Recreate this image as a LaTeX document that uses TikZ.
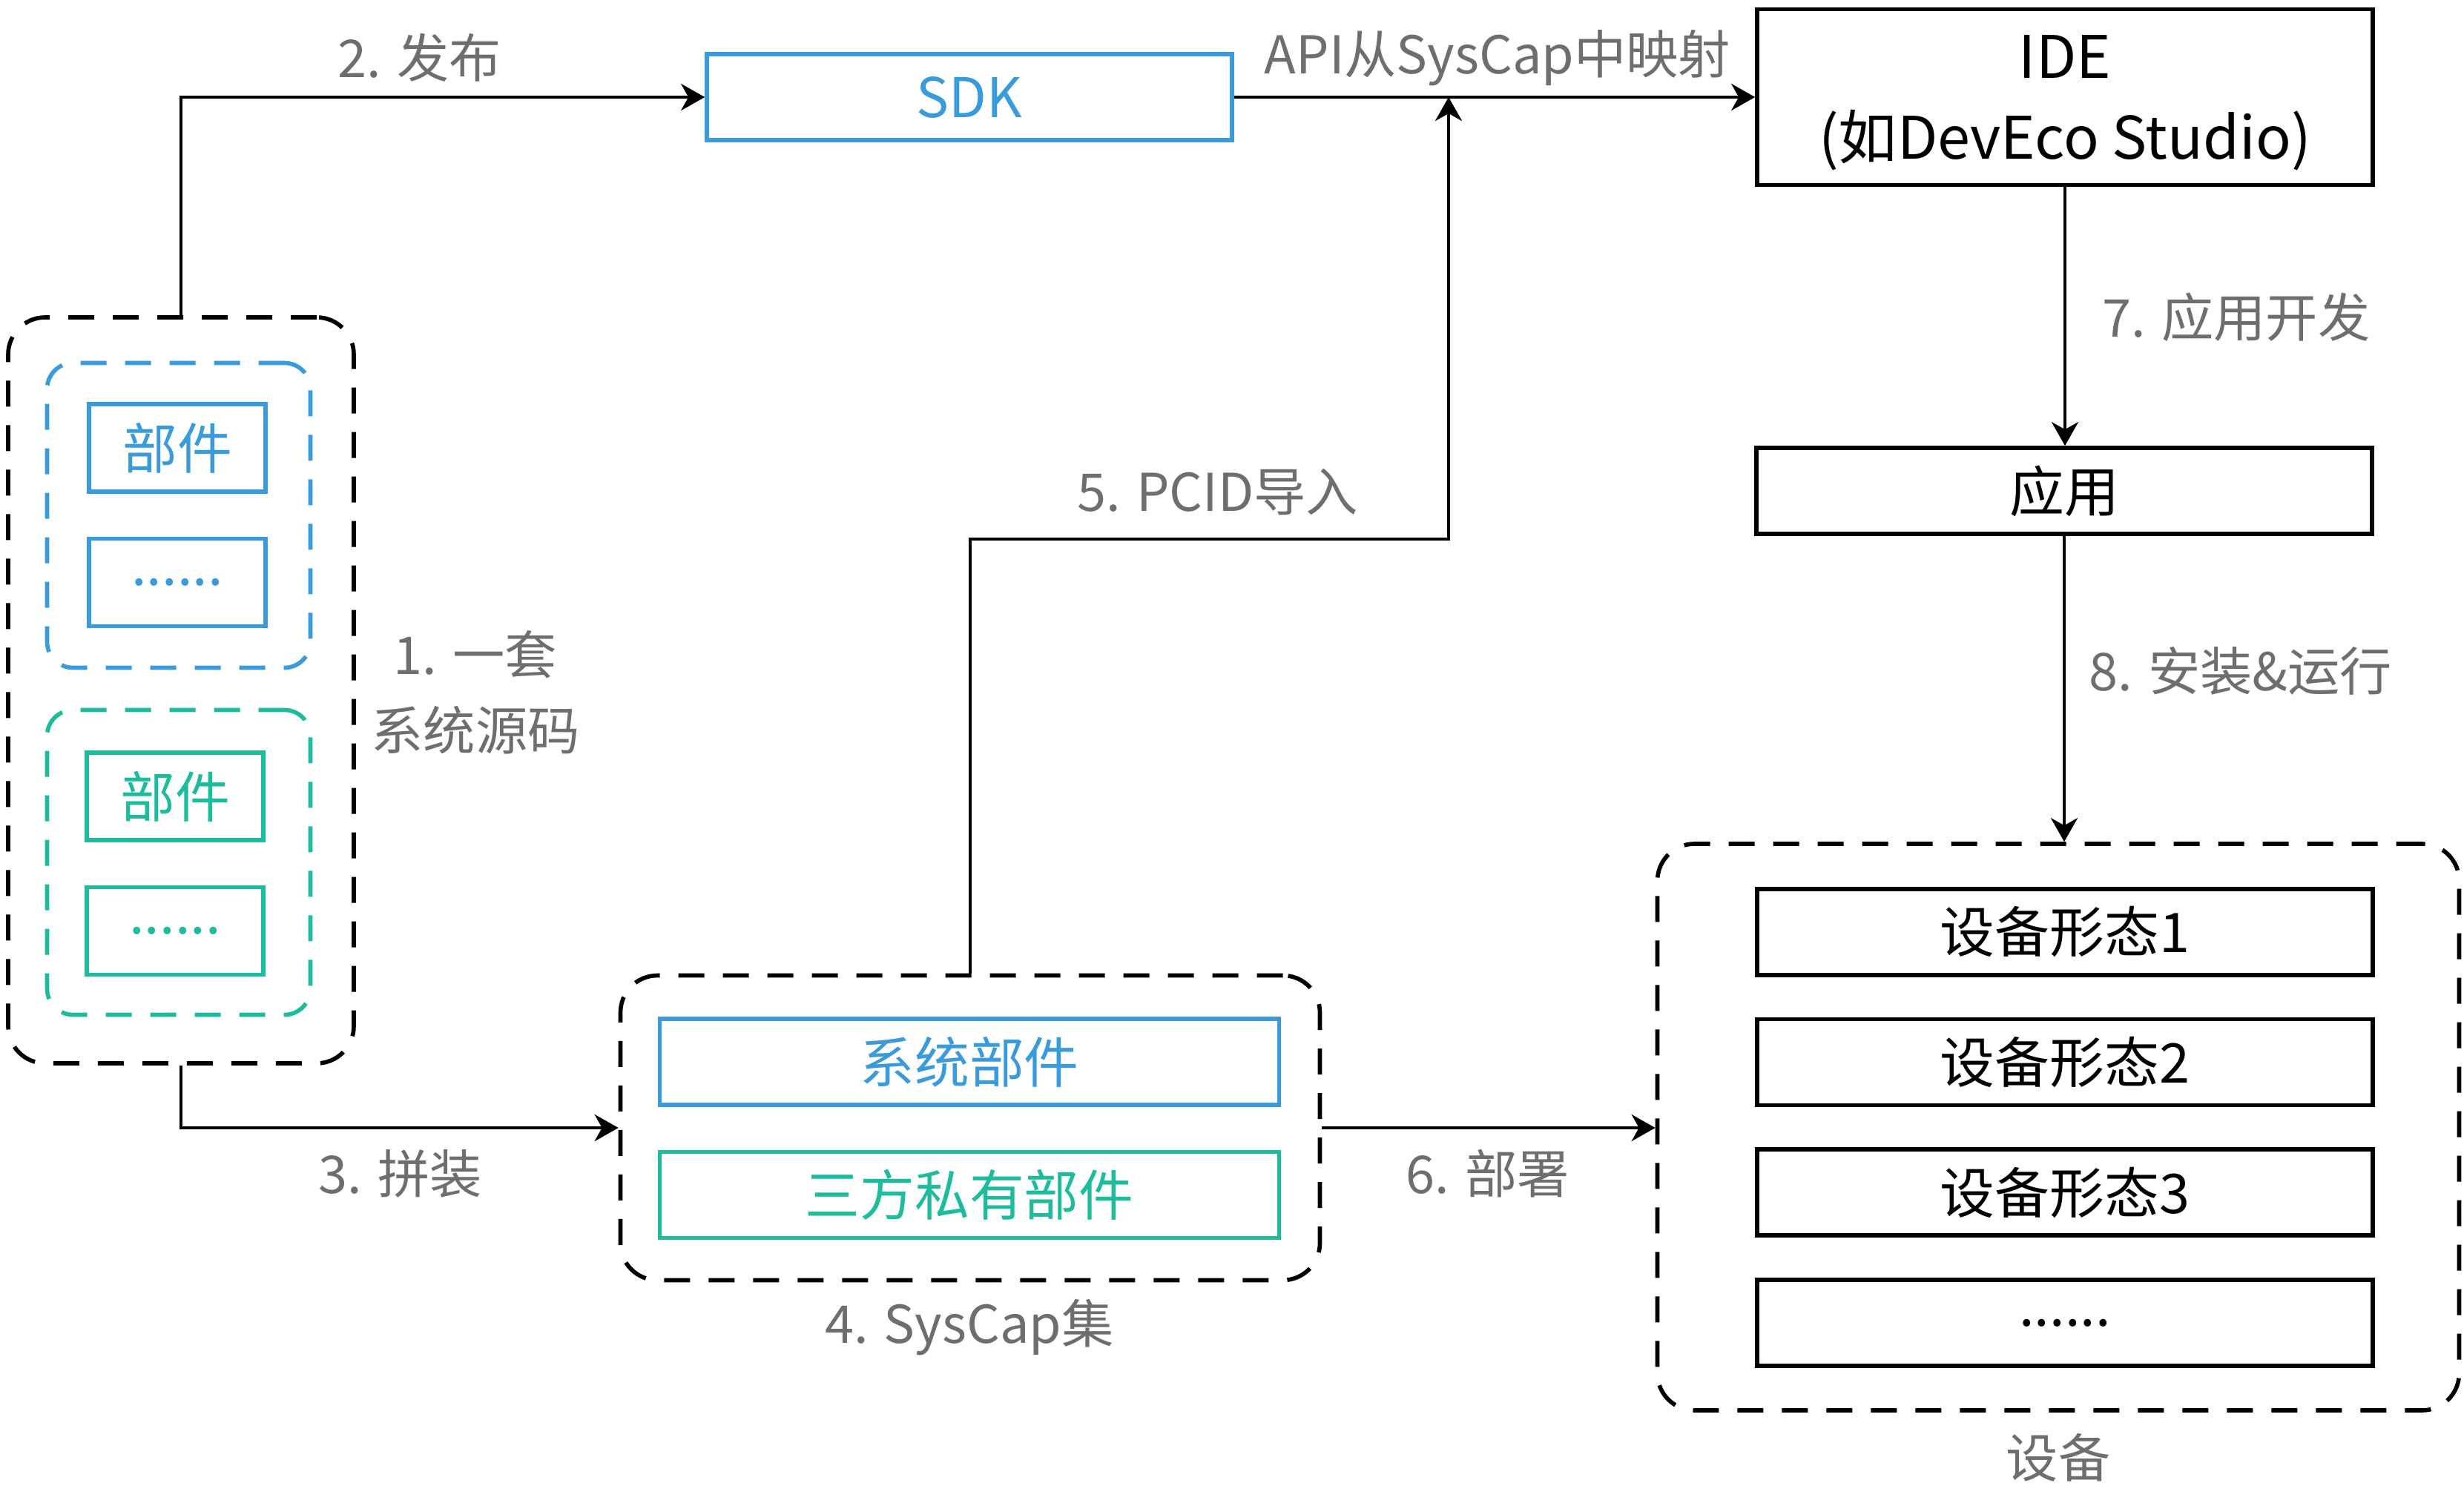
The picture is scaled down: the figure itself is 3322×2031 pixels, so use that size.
\documentclass[tikz,border=0pt]{standalone}
\usepackage{fontspec}
\setmainfont{Noto Sans CJK SC}
\usepackage{xcolor}
\usepackage{tikz}
\usetikzlibrary{positioning,arrows.meta,calc}
\definecolor{compblue}{HTML}{3A9BDC}
\definecolor{compgreen}{HTML}{1DBC9C}
\definecolor{notegray}{HTML}{6E6E6E}

\begin{document}
\begin{tikzpicture}[x=0.1mm,y=-0.1mm,font=\fontsize{21}{25}\selectfont,
   blk/.style={draw,line width=1.6pt,minimum width=83mm,minimum height=11.6mm,inner sep=2pt},
   part/.style={draw,line width=1.5pt,minimum width=23.8mm,minimum height=11.8mm,inner sep=1pt},
   group/.style={draw,line width=1.6pt,dash pattern=on 3.5mm off 2.5mm,rounded corners=5mm,inner sep=0pt},
   stepnote/.style={text=notegray,font=\fontsize{20}{29}\selectfont,align=center,inner sep=1pt},
   link/.style={-{Stealth[length=3.2mm,width=3.6mm,inset=1mm]},line width=1.3pt},
]
\useasboundingbox (0,0) rectangle (3322,2031);

% top row
\node[blk,draw=compblue,text=compblue,minimum width=70.8mm] (sdk) at (1307,131) {SDK};
\node[blk,minimum height=23.7mm,align=center,text depth=0pt,font=\fontsize{22.5}{31}\selectfont]
       (ide) at (2784,131) {IDE\\(如DevEco Studio)};
\node[blk] (app) at (2783,662) {应用};

% devices
\node[group,minimum width=108.1mm,minimum height=76.4mm] (dev) at (2775,1520) {};
\node[blk] (dev1) at (2784,1257) {设备形态1};
\node[blk,below=5.4mm of dev1] (dev2) {设备形态2};
\node[blk,below=5.4mm of dev2] (dev3) {设备形态3};
\node[blk,below=5.4mm of dev3] (dev4) {......};

% system source
\node[group,minimum width=46.6mm,minimum height=100.6mm] (src) at (244,931) {};
\node[group,draw=compblue,minimum width=35.5mm,minimum height=41.1mm,rounded corners=3.5mm]
       (sysgrp) at (241,695) {};
\node[part,draw=compblue,text=compblue] (sysp1) at (239,604) {部件};
\node[part,draw=compblue,text=compblue,below=5.8mm of sysp1] (sysp2) {......};
\node[group,draw=compgreen,minimum width=35.5mm,minimum height=41.1mm,rounded corners=3.5mm]
       (thdgrp) at (241,1163) {};
\node[part,draw=compgreen,text=compgreen] (thdp1) at (236,1074) {部件};
\node[part,draw=compgreen,text=compgreen,below=5.8mm of thdp1] (thdp2) {......};

% syscap set
\node[group,minimum width=94.3mm,minimum height=41.1mm] (cap) at (1308,1521) {};
\node[blk,draw=compblue,text=compblue,minimum width=83.5mm] (capsys) at (1307,1432) {系统部件};
\node[blk,draw=compgreen,text=compgreen,minimum width=83.5mm,below=5.8mm of capsys]
       (capthd) {三方私有部件};

% step labels
\node[stepnote] (lblsrc) at (641,934) {1. 一套\\系统源码};
\node[stepnote] (lblpub) at (566,78) {2. 发布};
\node[stepnote] (lblmap) at (2019,78) {API从SysCap中映射};
\node[stepnote] (lblasm) at (540,1583) {3. 拼装};
\node[stepnote] (lblcap) at (1307,1790) {4. SysCap集};
\node[stepnote] (lblpcid) at (1642,663) {5. PCID导入};
\node[stepnote] (lbldep) at (2006,1583) {6. 部署};
\node[stepnote] (lbldevl) at (3015,428) {7. 应用开发};
\node[stepnote] (lblrun) at (3021,905) {8. 安装\&运行};
\node[stepnote] (lbldev) at (2775,1966) {设备};

% connectors
\coordinate (mapin) at (1953,131);
\coordinate (pcidturn) at (1953,727);
\draw[link] (src.north) |- (sdk.west);
\draw[link] (sdk.east) -- (ide.west);
\draw[link] (src.south) |- (cap.west);
\draw[link] (cap.north) |- (pcidturn) -- (mapin);
\draw[link] (cap.east) -- (cap.east -| dev.west);
\draw[link] (ide.south) -- (ide.south |- app.north);
\draw[link] (app.south) -- (app.south |- dev.north);
\end{tikzpicture}
\end{document}
